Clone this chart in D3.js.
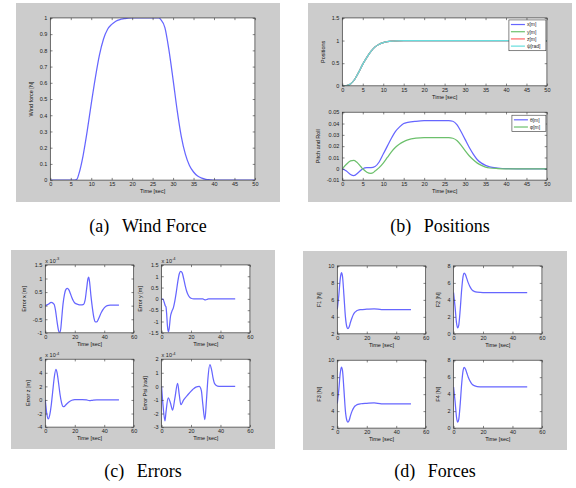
<!DOCTYPE html>
<html><head><meta charset="utf-8">
<script src="https://cdn.jsdelivr.net/npm/d3@7"></script>
<style>html,body{margin:0;padding:0;background:#fff}svg{display:block}</style>
</head><body>
<svg id="c" width="576" height="488"></svg>
<script>
// ---------------- DATA ----------------
const windTime  = [0,6,6.5,7,8,9,10,11,12,13,14,15,16,17,18,19,20,26,26.5,27,28,29,30,31,32,33,34,35,36,37,38,39,40,50];
const windForce = [0,0,0.005,0.04,0.15,0.3,0.47,0.63,0.77,0.87,0.93,0.96,0.98,0.99,0.995,0.999,1,1,1,0.99,0.94,0.8,0.62,0.43,0.27,0.16,0.09,0.05,0.025,0.012,0.005,0.002,0,0];

const posTime = [0,1,2,3,4,5,6,7,8,9,10,11,12,13,15,50];
const posX    = [0,0.005,0.04,0.14,0.3,0.48,0.63,0.76,0.86,0.92,0.955,0.975,0.988,0.995,1,1];
const posY    = [0,0.005,0.04,0.14,0.3,0.48,0.63,0.76,0.86,0.92,0.955,0.975,0.988,0.995,1,1];
const posZ    = [0,0.005,0.04,0.14,0.3,0.48,0.63,0.76,0.86,0.92,0.955,0.975,0.988,0.995,1,1];
const posPsi  = [0,0.005,0.04,0.14,0.3,0.48,0.63,0.76,0.86,0.92,0.955,0.975,0.988,0.995,1,1];
const posNames = ["x[m]","y[m]","z[m]","ψ[rad]"];

const thetaTime = [0,1,2,2.8,4,5,6,7,8,9,10,11,12,13,14,15,16,18,20,26,27,28,29,30,31,32,33,34,35,36,38,40,45,50];
const theta     = [0,-0.002,-0.005,-0.006,-0.003,0,0.001,0.001,0.002,0.006,0.013,0.02,0.027,0.033,0.037,0.04,0.041,0.042,0.0425,0.0425,0.042,0.039,0.033,0.026,0.019,0.013,0.008,0.005,0.003,0.0017,0.0007,0.0002,0,0];
const phiTime   = [0,1,2,2.8,3.5,4.5,5,6,7,7.5,8,9,10,11,12,13,14,15,16,18,20,26,27,28,29,30,31,32,33,34,35,36,38,40,50];
const phi       = [0,0.004,0.007,0.0075,0.006,0.002,0,-0.003,-0.004,-0.0035,-0.002,0.001,0.005,0.01,0.015,0.019,0.022,0.024,0.0255,0.027,0.0275,0.0275,0.027,0.025,0.021,0.016,0.0115,0.008,0.005,0.003,0.0015,0.0007,0.0002,0,0];
const angNames  = ["θ[m]","φ[m]"];

const exTime = [0,2,4,6,7,8,9,9.7,10.5,11,12,13,14,15,16,17,18,19,20,22,24,26,27,28,29,29.5,30,31,32,33,34,35,36,38,40,42,44,50];
const ex     = [0,0.05,0.12,0.05,-0.2,-0.6,-0.92,-1.0,-0.85,-0.55,0.05,0.42,0.6,0.64,0.58,0.45,0.3,0.18,0.1,0.05,0.03,0.05,0.2,0.6,1.0,1.05,0.9,0.35,-0.1,-0.45,-0.6,-0.6,-0.5,-0.25,-0.08,0,0.02,0.02];
const eyTime = [0,1,2,2.5,3,3.5,4,4.6,5.2,6,7,8,9,10,11,12,13,14,15,16,17,18,19,20,22,28,29,30,31,32,50];
const ey     = [0,-0.02,-0.2,-0.3,-0.35,-0.7,-1.2,-1.45,-1.3,-0.8,-0.55,-0.4,-0.1,0.3,0.75,1.1,1.22,1.15,0.9,0.6,0.35,0.18,0.08,0.03,0,0,-0.03,-0.04,-0.02,0,0];
const ezTime = [0,1,2,3,4,5,6,7.2,8,9,10,11,12.2,13,14,16,18,20,25,28,30,32,35,50];
const ez     = [0,-2,-2.8,-2.2,-0.8,1.2,3.2,4.5,4.0,2.5,0.8,-0.4,-1.0,-0.95,-0.7,-0.3,-0.05,0.05,0.05,0,-0.1,-0.05,0,0];
const epTime = [0,1,2.3,3,4.5,6,7.5,9,10.9,12,13.1,15,18,21,23.3,25.6,27,28,29.4,30.5,31.5,32.8,34,35,36,38,40,50];
const ep     = [0,-1.4,-2.55,-1.9,-0.85,-1.2,-1.75,-0.9,0.22,-0.6,-1.35,-1.0,-0.6,-0.25,-0.05,0,-0.3,-1.3,-2.45,-1.0,0.6,1.6,1.2,0.6,0.2,0.02,0,0];

const fTime = [0,1,2,2.8,3.5,4.5,5.5,6.5,7.2,8,9,10,11,12,13,14,16,20,25,30,50];
const f1 = [4.9,6.5,8.5,9.2,8.8,6.5,4.0,2.8,2.6,2.8,3.4,3.9,4.3,4.55,4.7,4.78,4.85,4.9,4.95,4.85,4.85];
const f2 = [4.85,3.2,1.3,0.7,1.0,2.8,5.2,6.8,7.15,7.0,6.5,6.0,5.6,5.3,5.1,5.0,4.9,4.85,4.85,4.85,4.85];
const f3 = [4.9,6.5,8.5,9.2,8.8,6.5,4.0,2.9,2.7,2.9,3.5,4.0,4.35,4.6,4.72,4.8,4.87,4.92,4.97,4.87,4.87];
const f4 = [4.85,3.2,1.3,0.7,1.0,2.8,5.2,6.8,7.15,7.0,6.5,6.0,5.6,5.3,5.1,5.0,4.9,4.85,4.85,4.85,4.85];

const ticks50 = [0,5,10,15,20,25,30,35,40,45,50];
const ticks60 = [0,20,40,60];
const windTicks = [0,0.1,0.2,0.3,0.4,0.5,0.6,0.7,0.8,0.9,1];
const posTicks = [0,0.5,1,1.5];
const angTicks = [-0.01,0,0.01,0.02,0.03,0.04,0.05];
const exTicks = [-1,-0.5,0,0.5,1,1.5];
const eyTicks = [-1.5,-1,-0.5,0,0.5,1,1.5];
const ezTicks = [-4,-2,0,2,4,6];
const epTicks = [-3,-2,-1,0,1,2];
const f13Ticks = [2,4,6,8,10];
const f24Ticks = [0,2,4,6,8];
const captions = ["(a)\u2002\u2009Wind Force","(b)\u2002\u2009Positions","(c)\u2002\u2009Errors","(d)\u2002\u2009Forces"];

// ---------------- DRAW ----------------
const svg = d3.select("#c");
const BLUE="#6666ff", GREEN="#6cc06c", RED="#ff6464", CYAN="#66dede";
const FONT="'Liberation Sans', Arial, sans-serif";
const SERIF="'Liberation Serif', 'Times New Roman', Times, 'DejaVu Serif', serif";
let clipId=0;

function figure(f){
  svg.append("rect").attr("x",f.x).attr("y",f.y).attr("width",f.w).attr("height",f.h).attr("fill","#cccccc");
}
function zip(t,v){return t.map((d,i)=>[d,v[i]]);}

function axes(f,pos,cfg){
  const left=f.x+pos[0]*f.w, w=pos[2]*f.w, bottom=f.y+f.h-pos[1]*f.h, h=pos[3]*f.h, top=bottom-h;
  const x=d3.scaleLinear().domain(cfg.xd).range([left,left+w]);
  const y=d3.scaleLinear().domain(cfg.yd).range([bottom,top]);
  const g=svg.append("g");
  g.append("rect").attr("x",left).attr("y",top).attr("width",w).attr("height",h).attr("fill","#fff");
  const id="clip"+(clipId++);
  g.append("clipPath").attr("id",id).append("rect").attr("x",left).attr("y",top).attr("width",w).attr("height",h);
  const line=d3.line().x(d=>x(d[0])).y(d=>y(d[1])).curve(d3.curveMonotoneX);
  const pg=g.append("g").attr("clip-path","url(#"+id+")");
  cfg.series.forEach(s=>{
    pg.append("path").datum(zip(s.t,s.v)).attr("d",line).attr("fill","none")
      .attr("stroke",s.c).attr("stroke-width",1.25).attr("stroke-linejoin","round");
  });
  const tl=2.2;
  const fmt=d=>String(d);
  const ax=(gen,tr,labels)=>{
    const a=g.append("g").attr("transform",tr).call(gen);
    a.select(".domain").remove();
    a.selectAll("line").attr("stroke","#333").attr("stroke-width",0.6);
    a.selectAll("text").attr("font-family",FONT).attr("font-size",5.5).attr("fill","#222");
    if(!labels) a.selectAll("text").remove();
    return a;
  };
  ax(d3.axisBottom(x).tickValues(cfg.xt).tickFormat(fmt).tickSizeInner(-tl).tickSizeOuter(0).tickPadding(2),`translate(0,${bottom})`,true);
  ax(d3.axisTop(x).tickValues(cfg.xt).tickSizeInner(-tl).tickSizeOuter(0),`translate(0,${top})`,false);
  const la=ax(d3.axisLeft(y).tickValues(cfg.yt).tickFormat(fmt).tickSizeInner(-tl).tickSizeOuter(0).tickPadding(3),`translate(${left},0)`,true);
  ax(d3.axisRight(y).tickValues(cfg.yt).tickSizeInner(-tl).tickSizeOuter(0),`translate(${left+w},0)`,false);
  g.append("rect").attr("x",left).attr("y",top).attr("width",w).attr("height",h)
    .attr("fill","none").attr("stroke","#333").attr("stroke-width",0.7);
  let minX=0;
  la.selectAll("text").each(function(){const b=this.getBBox(); minX=Math.min(minX,b.x);});
  g.append("text").attr("transform",`translate(${left-3+minX-4},${(top+bottom)/2}) rotate(-90)`)
    .attr("text-anchor","middle").attr("font-family",FONT).attr("font-size",5.5).attr("fill","#111").text(cfg.ylabel);
  g.append("text").attr("x",left+w/2).attr("y",bottom+13).attr("text-anchor","middle")
    .attr("font-family",FONT).attr("font-size",5.5).attr("fill","#111").text("Time [sec]");
  if(cfg.exp){
    const t=g.append("text").attr("x",left).attr("y",top-2).attr("font-family",FONT).attr("font-size",5.5).attr("fill","#222");
    t.append("tspan").text("x 10");
    t.append("tspan").attr("dy",-2.5).attr("font-size",4).text(cfg.exp);
  }
  if(cfg.legend){
    const L=cfg.legend, lw=L.w, rh=7.2, lh=L.names.length*rh+2;
    const lx=left+w-lw-1, ly=top+L.dy;
    g.append("rect").attr("x",lx).attr("y",ly).attr("width",lw).attr("height",lh).attr("fill","#fff").attr("stroke","#333").attr("stroke-width",0.6);
    L.names.forEach((n,i)=>{
      const yy=ly+1+rh*(i+0.5);
      g.append("line").attr("x1",lx+2).attr("x2",lx+16).attr("y1",yy).attr("y2",yy).attr("stroke",L.colors[i]).attr("stroke-width",1.2);
      g.append("text").attr("x",lx+18).attr("y",yy+1.8).attr("font-family",FONT).attr("font-size",5).attr("fill","#222").text(n);
    });
  }
}

const FA={x:16,y:3,w:264,h:199}, FB={x:308,y:3,w:264,h:199}, FC={x:11,y:250,w:264,h:199}, FD={x:303,y:251,w:264,h:199};
[FA,FB,FC,FD].forEach(figure);

axes(FA,[0.13,0.11,0.775,0.815],{xd:[0,50],yd:[0,1],xt:ticks50,yt:windTicks,ylabel:"Wind force [N]",
  series:[{t:windTime,v:windForce,c:BLUE}]});

axes(FB,[0.13,0.5838,0.775,0.3412],{xd:[0,50],yd:[0,1.5],xt:ticks50,yt:posTicks,ylabel:"Positions",
  series:[{t:posTime,v:posX,c:BLUE},{t:posTime,v:posY,c:GREEN},{t:posTime,v:posZ,c:RED},{t:posTime,v:posPsi,c:CYAN}],
  legend:{names:posNames,colors:[BLUE,GREEN,RED,CYAN],w:37,dy:2}});
axes(FB,[0.13,0.11,0.775,0.3412],{xd:[0,50],yd:[-0.01,0.05],xt:ticks50,yt:angTicks,ylabel:"Pitch and Roll",
  series:[{t:thetaTime,v:theta,c:BLUE},{t:phiTime,v:phi,c:GREEN}],
  legend:{names:angNames,colors:[BLUE,GREEN],w:34,dy:3}});

const P=[[0.13,0.5838,0.3347,0.3412],[0.5703,0.5838,0.3347,0.3412],[0.13,0.11,0.3347,0.3412],[0.5703,0.11,0.3347,0.3412]];
axes(FC,P[0],{xd:[0,60],yd:[-1,1.5],xt:ticks60,yt:exTicks,ylabel:"Error x [m]",exp:"-3",series:[{t:exTime,v:ex,c:BLUE}]});
axes(FC,P[1],{xd:[0,60],yd:[-1.5,1.5],xt:ticks60,yt:eyTicks,ylabel:"Error y [m]",exp:"-4",series:[{t:eyTime,v:ey,c:BLUE}]});
axes(FC,P[2],{xd:[0,60],yd:[-4,6],xt:ticks60,yt:ezTicks,ylabel:"Error z [m]",exp:"-4",series:[{t:ezTime,v:ez,c:BLUE}]});
axes(FC,P[3],{xd:[0,60],yd:[-3,2],xt:ticks60,yt:epTicks,ylabel:"Error Psi [rad]",exp:"-4",series:[{t:epTime,v:ep,c:BLUE}]});

axes(FD,P[0],{xd:[0,60],yd:[2,10],xt:ticks60,yt:f13Ticks,ylabel:"F1 [N]",series:[{t:fTime,v:f1,c:BLUE}]});
axes(FD,P[1],{xd:[0,60],yd:[0,8],xt:ticks60,yt:f24Ticks,ylabel:"F2 [N]",series:[{t:fTime,v:f2,c:BLUE}]});
axes(FD,P[2],{xd:[0,60],yd:[2,10],xt:ticks60,yt:f13Ticks,ylabel:"F3 [N]",series:[{t:fTime,v:f3,c:BLUE}]});
axes(FD,P[3],{xd:[0,60],yd:[0,8],xt:ticks60,yt:f24Ticks,ylabel:"F4 [N]",series:[{t:fTime,v:f4,c:BLUE}]});

const capPos=[[FA.x+FA.w/2,232],[FB.x+FB.w/2,232],[FC.x+FC.w/2,477],[FD.x+FD.w/2,477]];
captions.forEach((c,i)=>{
  svg.append("text").attr("x",capPos[i][0]).attr("y",capPos[i][1]).attr("text-anchor","middle")
    .attr("font-family",SERIF).attr("font-size",18).attr("fill","#000").text(c);
});
</script>
</body></html>
